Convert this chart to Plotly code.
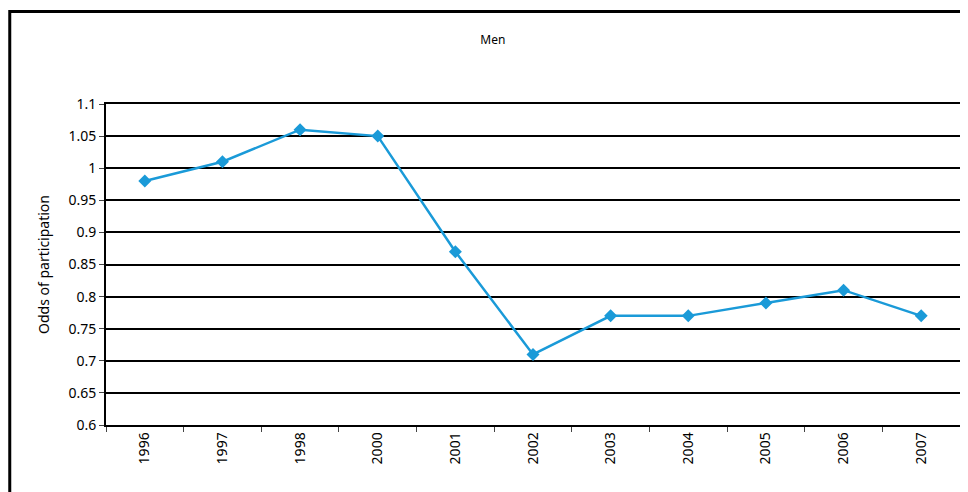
import plotly.graph_objects as go

years = ["1996", "1997", "1998", "2000", "2001", "2002", "2003", "2004", "2005", "2006", "2007"]
odds = [0.98, 1.01, 1.06, 1.05, 0.87, 0.71, 0.77, 0.77, 0.79, 0.81, 0.77]
y_ticks = [0.6, 0.65, 0.7, 0.75, 0.8, 0.85, 0.9, 0.95, 1, 1.05, 1.1]
y_labels = ["0.6", "0.65", "0.7", "0.75", "0.8", "0.85", "0.9", "0.95", "1", "1.05", "1.1"]

fig = go.Figure()
fig.add_trace(go.Scatter(
    x=years, y=odds, mode="lines+markers",
    line=dict(color="#1a9ad8", width=2.5),
    marker=dict(symbol="diamond", size=10, color="#1a9ad8"),
    showlegend=False,
))

# page body has an 8px default margin, so the figure is 960x484
fig.update_layout(
    width=960, height=484,
    margin=dict(l=98, r=6, t=96, b=67),
    paper_bgcolor="white", plot_bgcolor="white",
    font=dict(family="Noto Sans", size=14, color="black"),
    title=dict(text="Men", x=0.505, xanchor="center", y=0.935, yanchor="middle",
               font=dict(size=12, family="Noto Sans", color="black")),
    xaxis=dict(
        type="category", range=[-0.5, len(years) - 0.5],
        tickangle=-90, ticks="outside", tickson="boundaries",
        ticklen=5, tickcolor="#444", showgrid=False, showline=True,
        linecolor="black", linewidth=1.5, mirror=True,
        tickfont=dict(size=14),
    ),
    yaxis=dict(
        range=[0.6, 1.1], tickvals=y_ticks, ticktext=y_labels,
        showgrid=True, gridcolor="black", gridwidth=1.7,
        showline=True, linecolor="black", linewidth=2, mirror=True,
        ticks="outside", ticklen=5, tickcolor="#444", zeroline=False,
        title=dict(text="Odds of participation", font=dict(size=14), standoff=16),
        tickfont=dict(size=14),
    ),
    shapes=[dict(
        type="rect", xref="paper", yref="paper",
        x0=-0.1127, x1=1.02, y0=-0.25, y1=1.288,
        line=dict(color="black", width=3), fillcolor="rgba(0,0,0,0)", layer="above",
    )],
)

fig.write_html("out.html")
